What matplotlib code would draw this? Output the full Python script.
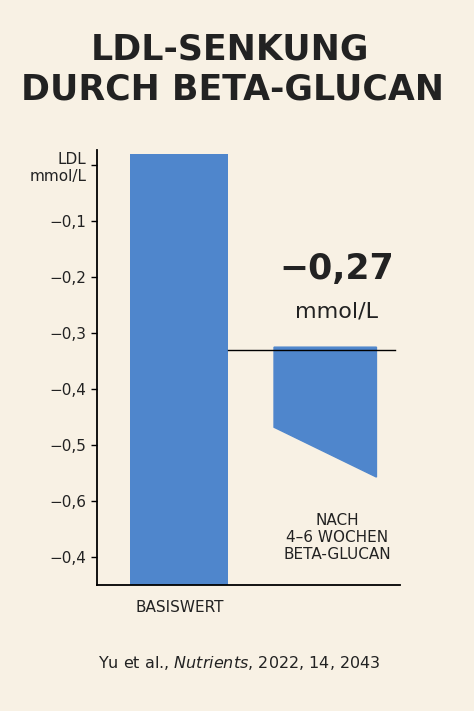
import matplotlib
matplotlib.use("Agg")
import matplotlib.pyplot as plt
from matplotlib.patches import Polygon

categories = ["BASISWERT", "NACH\n4–6 WOCHEN\nBETA-GLUCAN"]
tick_values = [0, -0.1, -0.2, -0.3, -0.4, -0.5, -0.6, -0.7]
tick_labels = ["LDL\nmmol/L", "−0,1", "−0,2", "−0,3", "−0,4", "−0,5", "−0,6", "−0,4"]
base_top, base_bottom = 0.02, -0.75
after_top, after_bottom_left, after_bottom_right = -0.325, -0.468, -0.557
ref_line = -0.33
change_label = "−0,27"

bg = "#f8f1e4"
blue = "#4f86cc"
fig = plt.figure(figsize=(4.74, 7.11), dpi=100, facecolor=bg)
ax = fig.add_axes([0.2046, 0.177, 0.639, 0.612], facecolor=bg)
ax.set_xlim(-0.56, 1.51)
ax.set_ylim(-0.75, 0.027)

ax.bar(0, base_top - base_bottom, bottom=base_bottom, width=0.67, color=blue)
w = 0.7
ax.add_patch(Polygon([(1 - w/2, after_top), (1 + w/2, after_top),
                      (1 + w/2, after_bottom_right), (1 - w/2, after_bottom_left)],
                     closed=True, color=blue))
ax.plot([0.335, 1.48], [ref_line, ref_line], color="black", lw=1)

ax.set_yticks(tick_values)
ax.set_yticklabels(tick_labels, fontsize=11, color="#222")
ax.tick_params(axis="y", length=4, width=1)
ax.set_xticks([])
for s in ["top", "right"]:
    ax.spines[s].set_visible(False)
for s in ["left", "bottom"]:
    ax.spines[s].set_linewidth(1.3)

ax.text(1.08, -0.185, change_label, ha="center", va="center", fontsize=25, fontweight="bold", color="#222")
ax.text(1.08, -0.262, "mmol/L", ha="center", va="center", fontsize=16, color="#222")
ax.text(1.08, -0.665, categories[1], ha="center", va="center", fontsize=11, color="#222", linespacing=1.2)
fig.text(180/474, 1 - 607/711, categories[0], ha="center", va="center", fontsize=11, color="#222")

fig.text(0.485, 1 - 50/711, "LDL-SENKUNG", ha="center", va="center", fontsize=25, fontweight="bold", color="#222")
fig.text(0.49, 1 - 90/711, "DURCH BETA-GLUCAN", ha="center", va="center", fontsize=25, fontweight="bold", color="#222")
fig.text(0.505, 1 - 663/711, r"Yu et al., $\it{Nutrients}$, 2022, 14, 2043", ha="center", va="center",
         fontsize=11.5, color="#222")

fig.savefig("out.png", dpi=100, facecolor=bg)
